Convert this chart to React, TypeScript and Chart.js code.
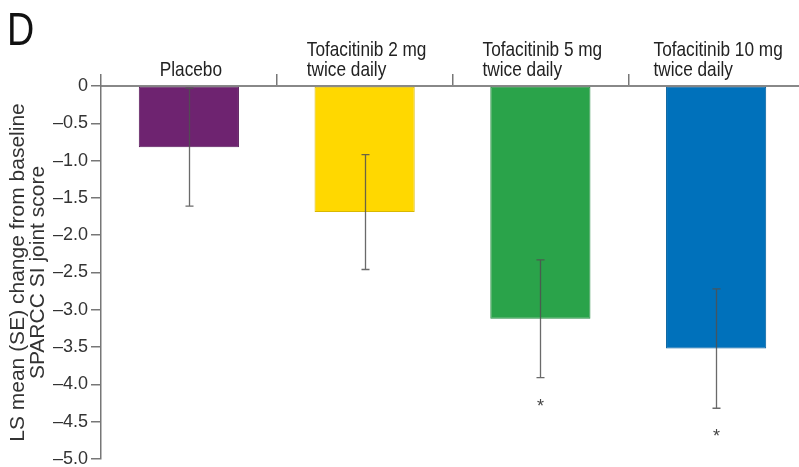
import React, { useEffect, useRef } from "react";
import { Chart, registerables } from "chart.js";

Chart.register(...registerables);

const panelLabel = "D";
const categories: string[][] = [
  ["Placebo"],
  ["Tofacitinib 2 mg", "twice daily"],
  ["Tofacitinib 5 mg", "twice daily"],
  ["Tofacitinib 10 mg", "twice daily"],
];
const lsMeans = [-0.82, -1.69, -3.12, -3.52];
const standardErrors = [0.79, 0.77, 0.79, 0.8];
const significance = ["", "", "*", "*"];
const barColors = ["#6E2370", "#FFD800", "#2AA34A", "#0071BB"];
const barBorders = ["#5a1c5c", "#d9b800", "#238a3e", "#005e9c"];
const yAxisTitle = ["LS mean (SE) change from baseline", "SPARCC SI joint score"];
const yMin = -5;
const yMax = 0;
const yStep = 0.5;

const SANS = '"Liberation Sans", Arial, sans-serif';
const CONDENSE = 0.82;

function narrowText(ctx: CanvasRenderingContext2D, text: string, x: number, y: number) {
  ctx.save();
  ctx.translate(x, y);
  ctx.scale(CONDENSE, 1);
  ctx.fillText(text, 0, 0);
  ctx.restore();
}

const overlayPlugin = {
  id: "overlay",
  afterDatasetsDraw(chart: any) {
    const ctx: CanvasRenderingContext2D = chart.ctx;
    const xs = chart.scales.x;
    const ys = chart.scales.y;
    ctx.save();
    // error bars
    lsMeans.forEach((m, i) => {
      const cx = Math.round(xs.getPixelForValue(i)) + 0.5;
      const top = ys.getPixelForValue(m + standardErrors[i]);
      const bot = ys.getPixelForValue(m - standardErrors[i]);
      ctx.strokeStyle = "rgba(80,80,80,0.85)";
      ctx.lineWidth = 1.3;
      ctx.beginPath();
      ctx.moveTo(cx, top);
      ctx.lineTo(cx, bot);
      ctx.moveTo(cx - 4, top);
      ctx.lineTo(cx + 4, top);
      ctx.moveTo(cx - 4, bot);
      ctx.lineTo(cx + 4, bot);
      ctx.stroke();
      if (significance[i]) {
        ctx.fillStyle = "#444";
        ctx.font = "18px " + SANS;
        ctx.textAlign = "center";
        ctx.textBaseline = "alphabetic";
        ctx.fillText(significance[i], cx, bot + 34);
      }
    });
    // category labels (top)
    ctx.font = "21px " + SANS;
    ctx.fillStyle = "#222";
    ctx.textAlign = "left";
    ctx.textBaseline = "alphabetic";
    const baseY = chart.chartArea.top - 10;
    categories.forEach((lines, i) => {
      const cx = xs.getPixelForValue(i);
      const w = Math.max(...lines.map((l) => ctx.measureText(l).width)) * CONDENSE;
      const left = cx - w / 2 + 2;
      lines.forEach((l, j) => {
        narrowText(ctx, l, left, baseY - (lines.length - 1 - j) * 20);
      });
    });
    // panel label
    ctx.font = "46px " + SANS;
    ctx.fillStyle = "#111";
    narrowText(ctx, panelLabel, 7, 45);
    ctx.restore();
  },
};

export default function App() {
  const ref = useRef<HTMLCanvasElement | null>(null);
  useEffect(() => {
    if (!ref.current) return;
    const chart = new Chart(ref.current, {
      type: "bar",
      data: {
        labels: categories.map((c) => c.join(" ")),
        datasets: [
          {
            data: lsMeans,
            backgroundColor: barColors,
            borderColor: barBorders,
            borderWidth: 1,
            borderSkipped: false,
            barPercentage: 0.57,
            categoryPercentage: 1,
          },
        ],
      },
      options: {
        animation: false,
        responsive: true,
        maintainAspectRatio: false,
        layout: { padding: { left: 0, top: 0, right: 8, bottom: 8 } },
        plugins: {
          legend: { display: false },
          tooltip: { enabled: false },
          title: { display: false },
        },
        scales: {
          x: {
            position: "top",
            offset: true,
            ticks: { display: false },
            grid: {
              display: true,
              offset: true,
              drawOnChartArea: false,
              drawTicks: true,
              tickLength: 12,
              color: "#777",
              lineWidth: 1.5,
            },
            border: { display: true, color: "#888", width: 2 },
            afterFit: (s: any) => {
              s.height = 86;
              s.paddingLeft = 0;
              s.paddingRight = 0;
            },
          },
          y: {
            min: yMin,
            max: yMax,
            ticks: {
              stepSize: yStep,
              padding: 3,
              color: "#333",
              font: { family: SANS, size: 18 },
              callback: (v: any) =>
                Number(v) === 0 ? "0" : "\u2013" + Math.abs(Number(v)).toFixed(1),
            },
            grid: {
              display: true,
              drawOnChartArea: false,
              drawTicks: true,
              tickLength: 10,
              color: "#777",
              lineWidth: 1.5,
            },
            border: { display: true, color: "#777", width: 1.5 },
            title: {
              display: true,
              text: yAxisTitle,
              color: "#333",
              font: { family: SANS, size: 21, lineHeight: 0.95 },
              padding: { top: 8, bottom: 0 },
            },
            afterFit: (s: any) => {
              s.width = 101;
              s.paddingTop = 0;
              s.paddingBottom = 0;
            },
          },
        },
      },
      plugins: [overlayPlugin],
    });
    return () => chart.destroy();
  }, []);
  return (
    <div
      style={{
        position: "fixed",
        left: 0,
        top: 0,
        width: 799,
        height: 467,
        overflow: "hidden",
        background: "#fff",
      }}
    >
      <div style={{ position: "relative", width: 812, height: 467 }}>
        <canvas ref={ref} />
      </div>
    </div>
  );
}
